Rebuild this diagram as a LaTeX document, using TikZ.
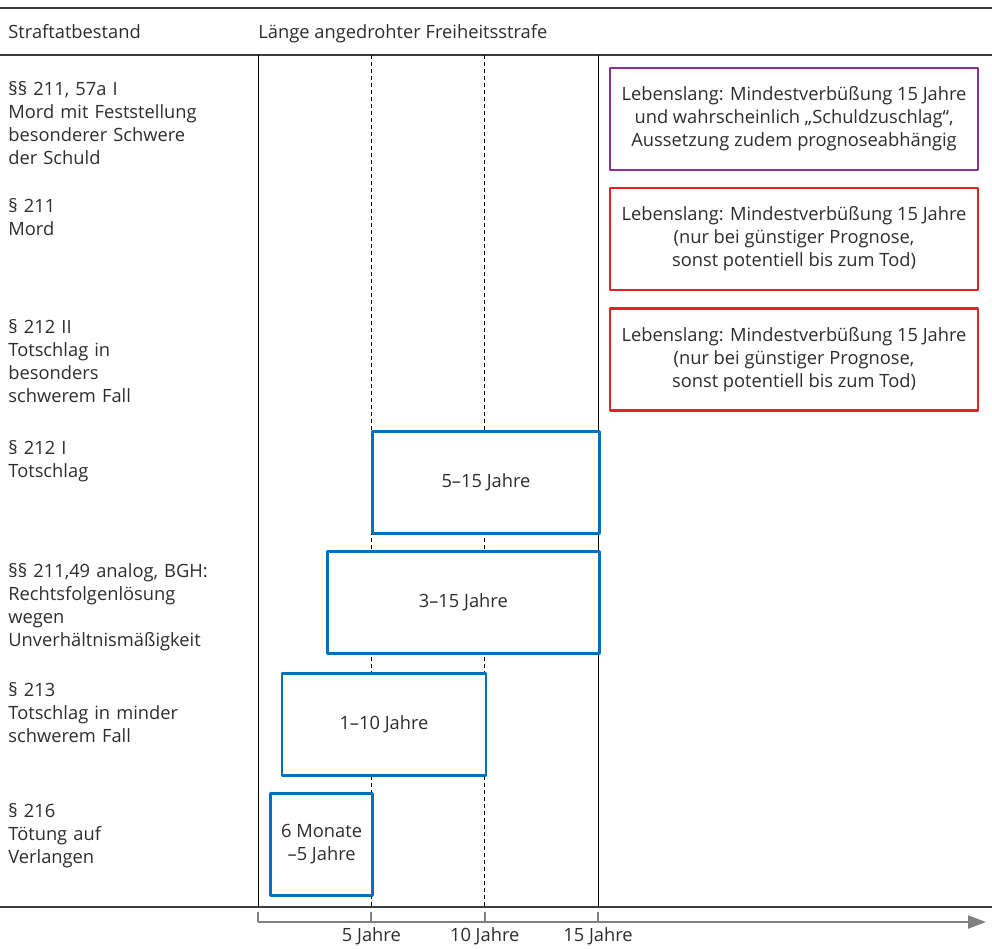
\documentclass[tikz,border=0pt]{standalone}
\usepackage{fontspec}
\setmainfont{Open Sans}
\usetikzlibrary{arrows.meta}
\definecolor{textgray}{RGB}{45,45,45}
\definecolor{rulegray}{RGB}{60,60,60}
\definecolor{axisgray}{RGB}{128,128,128}
\definecolor{boxblue}{RGB}{0,112,192}
\definecolor{boxred}{RGB}{232,30,40}
\definecolor{boxpurple}{RGB}{150,45,150}
\newcommand{\yr}[1]{258+22.67*#1}
\begin{document}
\begin{tikzpicture}[x=1pt,y=-1pt,line join=round,>=stealth,thick]
	\tikzset{every node/.style={font=\fontsize{18.3}{23}\selectfont,text=textgray,inner sep=0pt}}
	\tikzset{rowlabel/.style={anchor=base west,text width=245pt,align=left},
		rangebox/.style={draw=boxblue,fill=white,line width=2.6pt,align=center,anchor=north west},
		lifebox/.style={fill=white,line width=2.2pt,align=center,minimum width=368pt,minimum height=102pt}}
	\useasboundingbox (0,0) rectangle (992,948);
	% rules and grid
	\foreach \y in {8,55,907}
	\draw[rulegray,line width=1.3pt] (0,\y)--(992,\y);
	\foreach \t in {0,15}
	\draw[black,line width=0.9pt] ({\yr{\t}},55)--({\yr{\t}},907);
	\foreach \t in {5,10}
	\draw[black,line width=0.8pt,dash pattern=on 4pt off 3pt] ({\yr{\t}},55)--({\yr{\t}},907);
	% header
	\node[anchor=base west] (hdtat) at (8,38) {Straftatbestand};
	\node[anchor=base west] (hdlaenge) at (258,38) {Länge angedrohter Freiheitsstrafe};
	% row labels
	\node[rowlabel] (mordsch) at (8,95) {§§ 211, 57a I\\Mord mit Feststellung\\besonderer Schwere\\der Schuld};
	\node[rowlabel] (mord) at (8,212) {§ 211\\Mord};
	\node[rowlabel] (totschlagbs) at (8,333) {§ 212 II\\Totschlag in\\besonders\\schwerem Fall};
	\node[rowlabel] (totschlag) at (8,454) {§ 212 I\\Totschlag};
	\node[rowlabel] (rechtsfolge) at (8,577) {§§ 211,49 analog, BGH:\\Rechtsfolgenlösung\\wegen\\Unverhältnismäßigkeit};
	\node[rowlabel] (minder) at (8,696) {§ 213\\Totschlag in minder\\schwerem Fall};
	\node[rowlabel] (verlangen) at (8,817) {§ 216\\Tötung auf\\Verlangen};
	% life sentences
	\node[lifebox,draw=boxpurple] (lifemordsch) at (794,119) {Lebenslang: Mindestverbüßung 15 Jahre\\und wahrscheinlich „Schuldzuschlag“,\\Aussetzung zudem prognoseabhängig};
	\node[lifebox,draw=boxred] (lifemord) at (794,239) {Lebenslang: Mindestverbüßung 15 Jahre\\(nur bei günstiger Prognose,\\sonst potentiell bis zum Tod)};
	\node[lifebox,draw=boxred] (lifetotschlagbs) at (794,359.5) {Lebenslang: Mindestverbüßung 15 Jahre\\(nur bei günstiger Prognose,\\sonst potentiell bis zum Tod)};
	% ranges
	\foreach \lo/\hi/\top/\nm/\txt in {5/15/430/rtotschlag/5--15 Jahre,3/15/550/rrechtsfolge/3--15 Jahre,1/10/672/rminder/1--10 Jahre,0.5/5/792/rverlangen/6 Monate\\--5 Jahre}
	\node[rangebox,minimum width={22.67pt*(\hi-\lo)},minimum height=102pt] (\nm) at ({\yr{\lo}},\top) {\txt};
	% axis
	\coordinate (axstart) at (258,922);
	\coordinate (axend) at (986,922);
	\draw[axisgray,line width=2.4pt,-{Triangle[length=18pt,width=13pt]}] (axstart)--(axend);
	\foreach \t in {0,5,10,15}
	\draw[axisgray,line width=2pt] ({\yr{\t}},912)--({\yr{\t}},922);
	\foreach \t in {5,10,15}
	\node[anchor=base] (ax\t) at ({\yr{\t}},941) {\t\ Jahre};
\end{tikzpicture}
\end{document}
